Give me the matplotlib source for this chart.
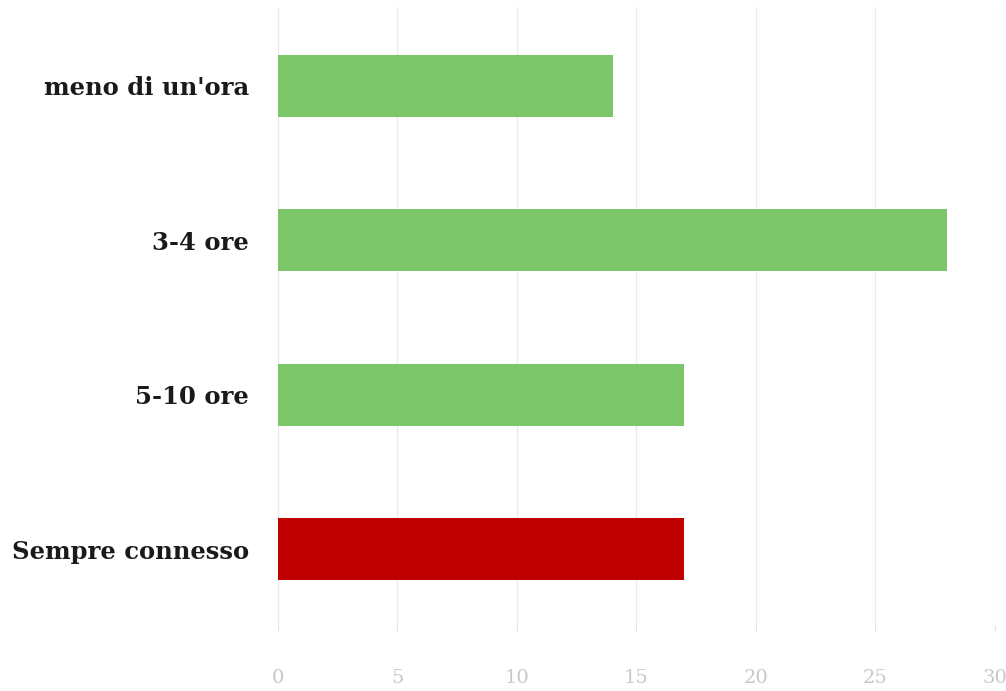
import matplotlib
matplotlib.use("Agg")
import matplotlib.pyplot as plt

categories = ["meno di un'ora", "3-4 ore", "5-10 ore", "Sempre connesso"]
values = [14, 28, 17, 17]
colors = ["#7CC66A", "#7CC66A", "#7CC66A", "#C00000"]
xticks = [0, 5, 10, 15, 20, 25, 30]

fig = plt.figure(figsize=(10.06, 6.91), dpi=100)
ax = fig.add_axes([0.2763, 0.0955, 0.7127, 0.8945])

ypos = list(range(len(categories)))[::-1]
ax.barh(ypos, values, height=0.4, color=colors, zorder=3)
ax.set_ylim(-0.49, 3.51)
ax.set_xlim(0, 30)
ax.set_xticks(xticks)
ax.set_xticklabels([str(t) for t in xticks], color="#C8C8C8",
                   fontsize=14, family="DejaVu Serif")
ax.set_yticks(ypos)
ax.set_yticklabels(categories, fontsize=17.5, fontweight="bold",
                   family="DejaVu Serif", color="#1a1a1a")
ax.grid(axis="x", color="#EBEBEB", linewidth=1, zorder=0)
for s in ax.spines.values():
    s.set_visible(False)
ax.tick_params(axis="y", length=0, pad=21)
ax.tick_params(axis="x", length=4, color="#E0E0E0", pad=28)

fig.savefig("out.png", dpi=100)
